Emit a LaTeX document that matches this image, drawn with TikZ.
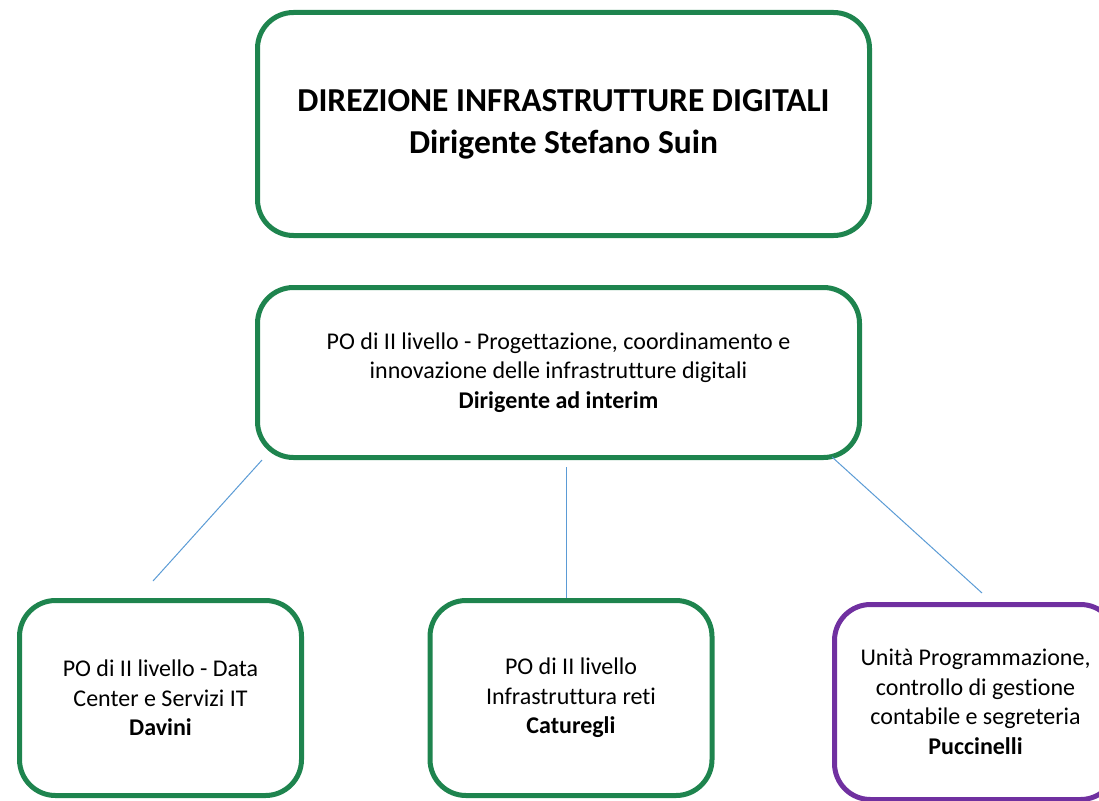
\documentclass[tikz,border=0pt]{standalone}
\usepackage{fontspec}
\setmainfont[Ligatures=NoCommon]{Carlito}
\usetikzlibrary{positioning}
\definecolor{boxgreen}{RGB}{30,132,78}
\definecolor{boxpurple}{RGB}{112,48,160}
\definecolor{linkblue}{RGB}{91,155,213}
\begin{document}
\begin{tikzpicture}[x=1pt,y=1pt]
            \tikzstyle{block} = [rectangle, draw=boxgreen, rounded corners=36pt, line width=5pt, align=center, minimum width=282pt, minimum height=195pt, font=\fontsize{24}{29.5}\selectfont]
            \tikzstyle{unit} = [block, draw=boxpurple]
            \tikzstyle{link} = [draw=linkblue, line width=1pt]
            \useasboundingbox (0,0) rectangle (1099,-800);
            \node [block, minimum width=612pt, minimum height=223pt, font=\fontsize{33.5}{42}\selectfont\bfseries] (direzione) at (563.5,-124) {DIREZIONE INFRASTRUTTURE DIGITALI\\Dirigente Stefano Suin};
            \node [block, minimum width=602pt, minimum height=170pt, below=47pt of direzione, xshift=-5pt] (progettazione) {PO di II livello - Progettazione, coordinamento e\\innovazione delle infrastrutture digitali\\\textbf{Dirigente ad interim}};
            \node [block, below=138pt of progettazione, xshift=-398pt] (datacenter) {PO di II livello - Data\\Center e Servizi IT\\\textbf{Davini}};
            \node [block, below=138pt of progettazione, xshift=12.5pt] (reti) {PO di II livello\\Infrastruttura reti\\\textbf{Caturegli}};
            \node [unit, below=142pt of progettazione, xshift=417pt] (segreteria) {Unità Programmazione,\\controllo di gestione\\contabile e segreteria\\\textbf{Puccinelli}};

            \coordinate [above=17pt of datacenter.north, xshift=-7.5pt] (datacenter top);
            \coordinate [above=9pt of segreteria.north, xshift=6.5pt] (segreteria top);
            \draw [link] ([xshift=7pt]progettazione.south west) -- (datacenter top);
            \draw [link] ([xshift=7.5pt, yshift=-7pt]progettazione.south) -- ([xshift=-5pt]reti.north);
            \draw [link] ([xshift=-30pt, yshift=3pt]progettazione.south east) -- (segreteria top);
        \end{tikzpicture}
\end{document}
